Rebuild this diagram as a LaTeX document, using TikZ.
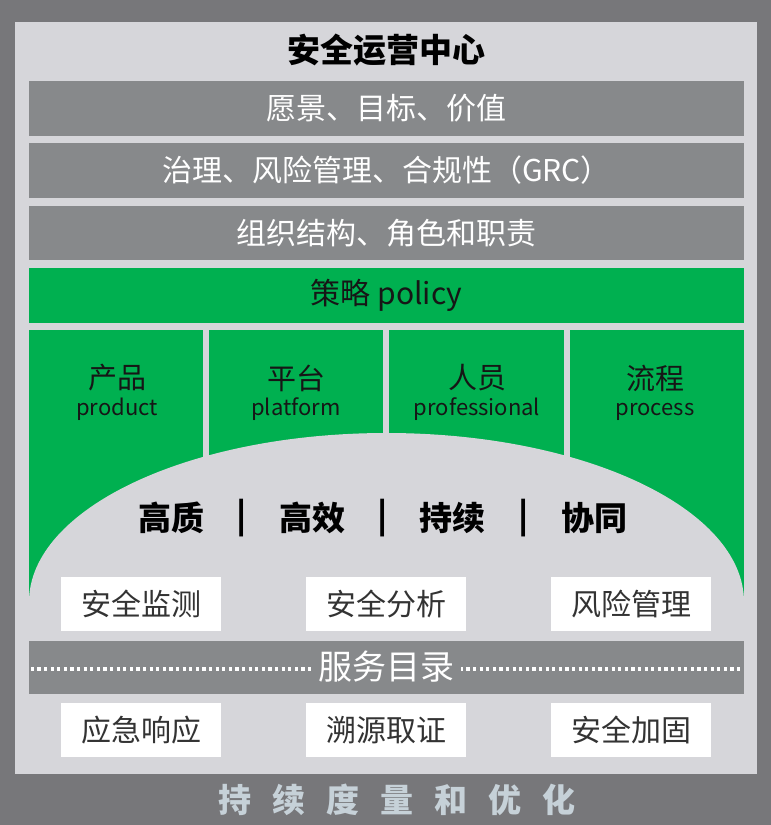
\documentclass[tikz,border=0pt]{standalone}
\usepackage{fontspec}
\setmainfont{Noto Sans CJK SC}
\definecolor{framec}{HTML}{77777A}
\definecolor{panelc}{HTML}{D6D6DA}
\definecolor{barc}{HTML}{87898B}
\definecolor{grnc}{HTML}{00B050}
\definecolor{bottomtxt}{HTML}{C6D1D8}
\definecolor{darktxt}{HTML}{333333}
\definecolor{blacktxt}{HTML}{161616}
\tikzset{
  graybar/.style={fill=barc, draw=none, inner sep=0pt, minimum width=715pt, minimum height=55pt,
    text=white, font=\fontsize{30}{32}\selectfont},
  greenbar/.style={fill=grnc, draw=none, inner sep=0pt, minimum width=715pt, minimum height=55pt,
    text=blacktxt, font=\fontsize{30}{32}\selectfont},
  colbox/.style={fill=grnc, draw=none, inner sep=0pt, minimum height=272pt, anchor=north},
  colcn/.style={text=blacktxt, inner sep=0pt, font=\fontsize{29}{31}\selectfont},
  colen/.style={text=blacktxt, inner sep=0pt, anchor=base, font=\fontsize{22}{24}\selectfont},
  valtxt/.style={text=black, inner sep=0pt, font=\fontsize{33}{35}\selectfont\bfseries},
  whitebox/.style={fill=white, draw=none, inner sep=0pt, minimum width=160pt, minimum height=54pt,
    text=darktxt, font=\fontsize{30}{32}\selectfont},
  dotline/.style={draw=white, line width=3.2pt, dash pattern=on 3.2pt off 3.4pt}
}
\begin{document}
\begin{tikzpicture}[x=1pt,y=-1pt]
\useasboundingbox (0,0) rectangle (771,825);
% outer frame and inner panel
\fill[framec] (0,0) rectangle (771,825);
\fill[panelc] (15,22) rectangle (757,774);
% title
\node[inner sep=0pt, font=\fontsize{33}{35}\selectfont\bfseries] (title) at (386,50) {安全运营中心};
% gray bars
\node[graybar] (vision) at (386.5,108.5) {愿景、目标、价值};
\node[graybar] (grc) at (386.5,170.5) {治理、风险管理、合规性（GRC）};
\node[graybar, minimum height=54pt] (org) at (386.5,233) {组织结构、角色和职责};
\node[greenbar] (policy) at (386.5,295.5) {策略 policy};
% green columns
\node[colbox, minimum width=174pt] (c1) at (116,330) {};
\node[colbox, minimum width=174pt] (c2) at (296,330) {};
\node[colbox, minimum width=175pt] (c3) at (476.5,330) {};
\node[colbox, minimum width=174pt] (c4) at (657,330) {};
% arch
\fill[panelc] (386.5,602) ellipse [x radius=357.5pt, y radius=169pt];
% column labels
\node[colcn] (c1a) at (117,378) {产品};
\node[colen] (c1b) at (117,415) {product};
\node[colcn] (c2a) at (296,378) {平台};
\node[colen] (c2b) at (296,415) {platform};
\node[colcn] (c3a) at (477,378) {人员};
\node[colen] (c3b) at (477,415) {professional};
\node[colcn] (c4a) at (655,378) {流程};
\node[colen] (c4b) at (655,415) {process};
% values
\node[valtxt] (v1) at (171,518) {高质};
\node[valtxt] (s1) at (242,518) {|};
\node[valtxt] (v2) at (312,518) {高效};
\node[valtxt] (s2) at (383,518) {|};
\node[valtxt] (v3) at (452,518) {持续};
\node[valtxt] (s3) at (524,518) {|};
\node[valtxt] (v4) at (594,518) {协同};
% services row 1
\node[whitebox] (w1) at (141,604) {安全监测};
\node[whitebox] (w2) at (386,604) {安全分析};
\node[whitebox] (w3) at (631,604) {风险管理};
% service catalogue bar
\node[graybar, minimum height=53pt, text=white] (svc) at (386.5,667.5) {};
\draw[dotline] ([xshift=2pt,yshift=-1.5pt]svc.west) -- ([xshift=-2pt,yshift=-1.5pt]svc.east);
\node[fill=barc, inner xsep=6pt, inner ysep=0pt, text=white, font=\fontsize{34}{36}\selectfont] (svctxt) at (386.5,667) {服务目录};
% services row 2
\node[whitebox] (w4) at (141,730) {应急响应};
\node[whitebox] (w5) at (386,730) {溯源取证};
\node[whitebox] (w6) at (631,730) {安全加固};
% bottom band text
\node[inner sep=0pt, text=bottomtxt, font=\fontsize{33}{35}\selectfont\bfseries] (measure) at (397,800)
  {持\hspace{21pt}续\hspace{21pt}度\hspace{21pt}量\hspace{21pt}和\hspace{21pt}优\hspace{21pt}化};
\end{tikzpicture}
\end{document}
